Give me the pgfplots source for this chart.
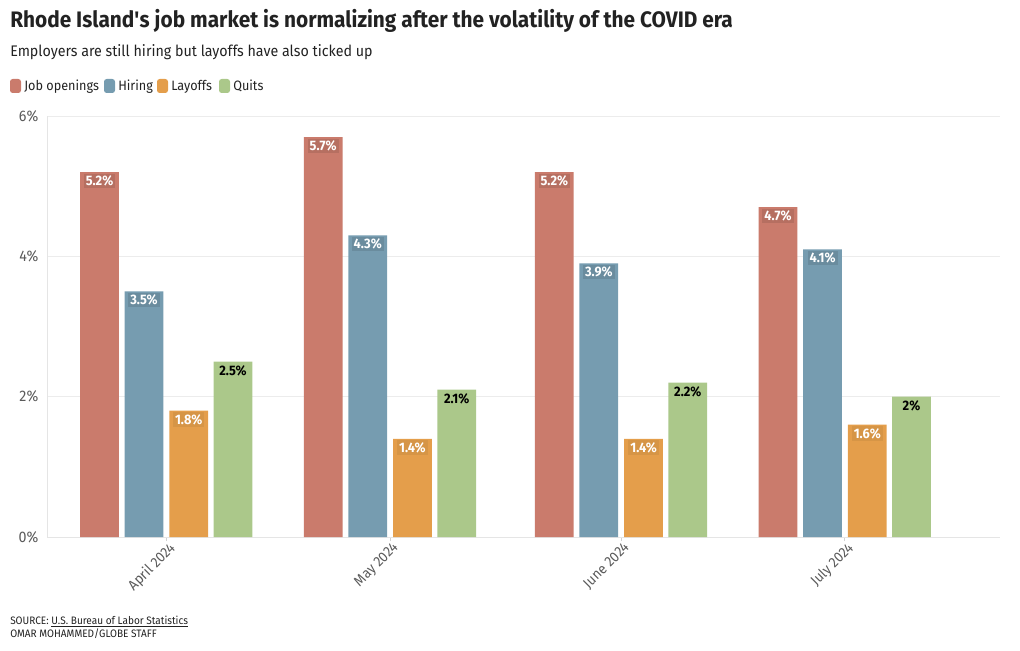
\documentclass[border=0pt]{standalone}
\usepackage{pgfplots}
\pgfplotsset{compat=1.18}
\usepackage{pgfplotstable}
\usepackage{fontspec}
\setmainfont[FakeStretch=0.93]{Fira Sans}
\definecolor{cJO}{HTML}{CA7B6C}
\definecolor{cHI}{HTML}{769CB0}
\definecolor{cLA}{HTML}{E49E4B}
\definecolor{cQU}{HTML}{ABC88A}
\definecolor{txt}{HTML}{222222}
\definecolor{tickc}{HTML}{5A5A5A}

\pgfplotstableread{
x jo hi la qu
0 5.2 3.5 1.8 2.5
30 5.7 4.3 1.4 2.1
61 5.2 3.9 1.4 2.2
91 4.7 4.1 1.6 2.0
}\data

\begin{document}
\begin{tikzpicture}[x=0.75pt,y=0.75pt]
\path[use as bounding box] (0,0) rectangle (1020,650);
\begin{axis}[
  at={(35.25pt,84.75pt)}, anchor=south west, scale only axis,
  width=714.75pt, height=315.75pt,
  ybar, bar width=5.2,
  xmin=-15.96, xmax=111.85, ymin=0, ymax=6,
  xtick={0,30,61,91},
  xticklabels={April 2024, May 2024, June 2024, July 2024},
  x tick label style={rotate=45, anchor=north east, font=\fontsize{10.8}{12}\selectfont, text=tickc, inner sep=1pt, xshift=2pt},
  ytick={0,2,4,6},
  yticklabel={\pgfmathprintnumber{\tick}\%},
  y tick label style={font=\fontsize{11.5}{13}\selectfont, text=tickc},
  /pgf/number format/assume math mode=true,
  axis x line*=bottom, axis y line*=left,
  axis line style={gray!20},
  ymajorgrids, major grid style={gray!15},
  xtick style={draw=gray!35}, ytick style={draw=none},
  tick align=outside, major tick length=3pt,
  nodes near coords={\pgfmathprintnumber{\pgfplotspointmeta}\%},
  nodes near coords align={below},
  every node near coord/.append style={font=\bfseries\fontsize{10.3}{11}\selectfont, inner sep=1.5pt, yshift=-1pt},
  clip=false,
]
\addplot[fill=cJO, draw=none, bar shift=-8.92, every node near coord/.append style={text=white, fill=cJO!90!black}] table[x=x,y=jo]{\data};
\addplot[fill=cHI, draw=none, bar shift=-2.95, every node near coord/.append style={text=white, fill=cHI!90!black}] table[x=x,y=hi]{\data};
\addplot[fill=cLA, draw=none, bar shift=3.05, every node near coord/.append style={text=white, fill=cLA!94!black}] table[x=x,y=la]{\data};
\addplot[fill=cQU, draw=none, bar shift=8.98, every node near coord/.append style={text=black}] table[x=x,y=qu]{\data};
\end{axis}
% titles
\node[anchor=base west, inner sep=0, text=txt, font=\bfseries\fontsize{16.8}{18}\selectfont] at (10,622) {Rhode Island\textquotesingle s job market is normalizing after the volatility of the COVID era};
\node[anchor=base west, inner sep=0, text=txt, font=\fontsize{11.5}{13}\selectfont] at (10,593) {Employers are still hiring but layoffs have also ticked up};
% legend
\fill[cJO, rounded corners=2] (10,571) rectangle (21,557);
\node[anchor=base west, inner sep=0, text=txt, font=\fontsize{10.2}{12}\selectfont] at (24,559) {Job openings};
\fill[cHI, rounded corners=2] (104,571) rectangle (115,557);
\node[anchor=base west, inner sep=0, text=txt, font=\fontsize{10.2}{12}\selectfont] at (118,559) {Hiring};
\fill[cLA, rounded corners=2] (157,571) rectangle (168,557);
\node[anchor=base west, inner sep=0, text=txt, font=\fontsize{10.2}{12}\selectfont] at (171,559) {Layoffs};
\fill[cQU, rounded corners=2] (219,571) rectangle (230,557);
\node[anchor=base west, inner sep=0, text=txt, font=\fontsize{10.2}{12}\selectfont] at (233,559) {Quits};
% footer
\node[anchor=base west, inner sep=0, text=txt, font=\fontsize{8.1}{9}\selectfont] at (10,26) {SOURCE: \underline{U.S. Bureau of Labor Statistics}};
\node[anchor=base west, inner sep=0, text=txt, font=\fontsize{8.1}{9}\selectfont] at (10,13) {OMAR MOHAMMED/GLOBE STAFF};
\end{tikzpicture}
\end{document}
